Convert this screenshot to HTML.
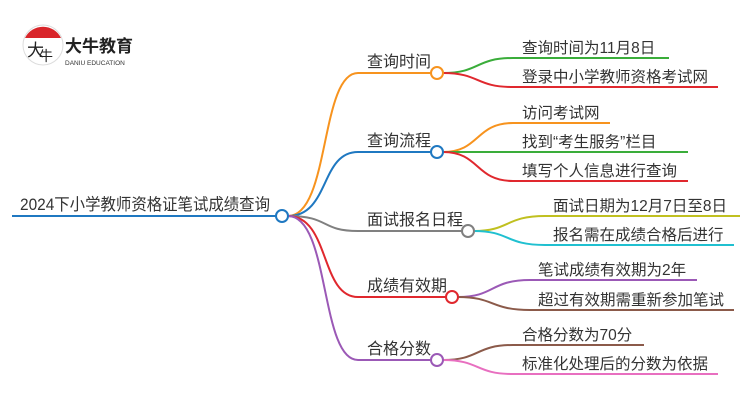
<!DOCTYPE html>
<html><head><meta charset="utf-8"><style>
html,body{margin:0;padding:0;background:#fff;}
svg{display:block;}
text{font-family:"Liberation Sans","Noto Sans CJK SC",sans-serif;fill:#333;}
</style></head><body>
<svg width="750" height="410" viewBox="0 0 750 410" xmlns="http://www.w3.org/2000/svg">
<!-- logo -->
<circle cx="43" cy="45" r="20" fill="#fff" stroke="#ddd" stroke-width="1"/>
<path d="M25 38 A20 20 0 0 1 61 38 Z" fill="#d9252a"/>
<text x="27" y="56" font-size="17" style="fill:#222">大</text>
<text x="39" y="61" font-size="14" style="fill:#222">牛</text>
<text x="65" y="52" font-size="17" font-weight="bold" style="fill:#222">大牛教育</text>
<text x="65" y="65" font-size="6.5" style="fill:#333">DANIU EDUCATION</text>

<g fill="none" stroke-width="2">
<line x1="12" y1="216" x2="276" y2="216" stroke="#1f78c1"/>
<path d="M288 216 C330 216,320 73,358 73 L431 73" stroke="#f7931e"/>
<path d="M288 216 C330 216,320 152,358 152 L431 152" stroke="#1f78c1"/>
<path d="M288 216 C330 216,320 231,358 231 L462 231" stroke="#808080"/>
<path d="M288 216 C330 216,320 297,358 297 L446 297" stroke="#e0282e"/>
<path d="M288 216 C330 216,320 360,358 360 L431 360" stroke="#9b59b6"/>
<path d="M443 73 C480 73,475 58,513 58 L669 58" stroke="#3aad3a"/>
<path d="M443 73 C480 73,475 87,513 87 L718 87" stroke="#e0282e"/>
<path d="M443 152 C480 152,475 123,513 123 L610 123" stroke="#f7931e"/>
<path d="M443 152 L688 152" stroke="#3aad3a"/>
<path d="M443 152 C480 152,475 181,513 181 L688 181" stroke="#e0282e"/>
<path d="M474 231 C510 231,505 216,545 216 L740 216" stroke="#c0c020"/>
<path d="M474 231 C510 231,505 245,545 245 L734 245" stroke="#20c0d0"/>
<path d="M458 297 C495 297,490 280,530 280 L697 280" stroke="#9b59b6"/>
<path d="M458 297 C495 297,490 310,530 310 L734 310" stroke="#8b5a4a"/>
<path d="M443 360 C480 360,475 345,513 345 L644 345" stroke="#8b5a4a"/>
<path d="M443 360 C480 360,475 374,513 374 L718 374" stroke="#e86fc0"/>
<circle cx="282" cy="216" r="6" fill="#fff" stroke="#1f78c1"/>
<circle cx="437" cy="73" r="6" fill="#fff" stroke="#f7931e"/>
<circle cx="437" cy="152" r="6" fill="#fff" stroke="#1f78c1"/>
<circle cx="468" cy="231" r="6" fill="#fff" stroke="#808080"/>
<circle cx="452" cy="297" r="6" fill="#fff" stroke="#e0282e"/>
<circle cx="437" cy="360" r="6" fill="#fff" stroke="#9b59b6"/>
</g>

<text x="20" y="210" font-size="16.5" textLength="250" lengthAdjust="spacingAndGlyphs">2024下小学教师资格证笔试成绩查询</text>
<text x="367" y="67" font-size="16">查询时间</text>
<text x="367" y="146" font-size="16">查询流程</text>
<text x="367" y="225" font-size="16">面试报名日程</text>
<text x="367" y="291" font-size="16">成绩有效期</text>
<text x="367" y="354" font-size="16">合格分数</text>

<text x="522" y="53" font-size="15.5">查询时间为11月8日</text>
<text x="522" y="82" font-size="15.5">登录中小学教师资格考试网</text>
<text x="522" y="118" font-size="15.5">访问考试网</text>
<text x="522" y="147" font-size="15.5">找到“考生服务”栏目</text>
<text x="522" y="176" font-size="15.5">填写个人信息进行查询</text>
<text x="553" y="211" font-size="15.5">面试日期为12月7日至8日</text>
<text x="553" y="240" font-size="15.5">报名需在成绩合格后进行</text>
<text x="538" y="275" font-size="15.5">笔试成绩有效期为2年</text>
<text x="538" y="305" font-size="15.5">超过有效期需重新参加笔试</text>
<text x="522" y="340" font-size="15.5">合格分数为70分</text>
<text x="522" y="369" font-size="15.5">标准化处理后的分数为依据</text>
</svg>
</body></html>
